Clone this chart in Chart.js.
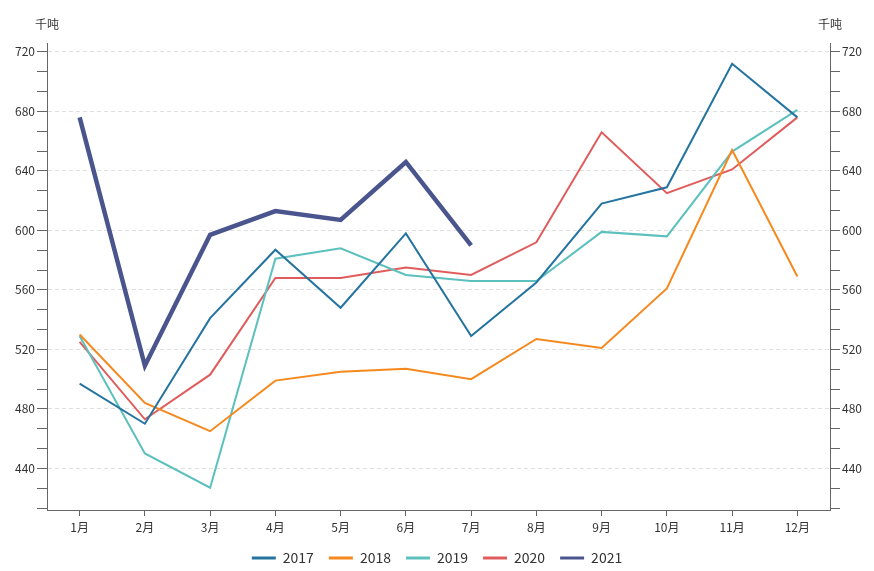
<!DOCTYPE html>
<html>
<head>
<meta charset="utf-8">
<script src="https://cdn.jsdelivr.net/npm/chart.js@4/dist/chart.umd.min.js"></script>
<style>
  html, body { margin: 0; padding: 0; background: #ffffff; }
  #wrap { width: 874px; height: 571px; }
</style>
</head>
<body>
<div id="wrap"><canvas id="c" width="874" height="571"></canvas></div>
<script>
const categories = ['1月','2月','3月','4月','5月','6月','7月','8月','9月','10月','11月','12月'];
const seriesNames = ['2017','2018','2019','2020','2021'];
const s2017 = [497, 470, 541, 587, 548, 598, 529, 565, 618, 629, 712, 676];
const s2018 = [530, 484, 465, 499, 505, 507, 500, 527, 521, 561, 654, 569];
const s2019 = [529, 450, 427, 581, 588, 570, 566, 566, 599, 596, 653, 681];
const s2020 = [525, 473, 503, 568, 568, 575, 570, 592, 666, 625, 641, 676];
const s2021 = [676, 509, 597, 613, 607, 646, 590];
const yMin = 412;
const yMax = 726;
const majorStep = 40;
const unitLabel = '千吨';

const colors = ['#24749f', '#f5891f', '#5cc0be', '#e05c5c', '#4a558e'];
const widths = [2, 2, 2, 2, 4.5];
const allSeries = [s2017, s2018, s2019, s2020, s2021];

const FONT = '"Noto Sans CJK SC", "Noto Sans", sans-serif';

function isMajor(v) {
  const r = Math.round(v);
  return Math.abs(v - r) < 0.01 && r % majorStep === 0;
}
function buildTicks(scale) {
  const ticks = [];
  const minor = majorStep / 3;
  for (let i = 0; ; i++) {
    const v = 720 - i * minor;
    if (v < yMin - 0.001) break;
    ticks.unshift({ value: v });
  }
  scale.ticks = ticks;
}

function yAxis(pos) {
  return {
    type: 'linear',
    position: pos,
    min: yMin,
    max: yMax,
    afterBuildTicks: buildTicks,
    afterFit: (s) => { s.width = pos === 'left' ? 47 : 44; },
    grid: {
      drawOnChartArea: pos === 'left',
      color: (ctx) => (ctx.tick && isMajor(ctx.tick.value)) ? '#e0e0e0' : 'rgba(0,0,0,0)',
      tickColor: '#666',
      tickLength: 10,
      lineWidth: 1
    },
    border: { display: true, color: '#666', width: 1, dash: [4, 3] },
    ticks: {
      autoSkip: false,
      padding: 2,
      color: '#333',
      font: { family: FONT, size: 12 },
      callback: (v) => isMajor(v) ? String(Math.round(v)) : ''
    }
  };
}

const unitPlugin = {
  id: 'unitLabels',
  afterDraw(chart) {
    const ctx = chart.ctx;
    ctx.save();
    ctx.font = '12px ' + FONT;
    ctx.fillStyle = '#333';
    ctx.textAlign = 'center';
    ctx.textBaseline = 'middle';
    ctx.fillText(unitLabel, chart.scales.y.right, 24);
    ctx.fillText(unitLabel, chart.scales.y2.left, 24);
    ctx.restore();
  }
};

new Chart(document.getElementById('c'), {
  type: 'line',
  data: {
    labels: categories,
    datasets: seriesNames.map((n, i) => ({
      label: n,
      data: allSeries[i],
      borderColor: colors[i],
      backgroundColor: colors[i],
      borderWidth: widths[i],
      pointRadius: 0,
      pointHoverRadius: 0,
      tension: 0,
      fill: false,
      yAxisID: 'y'
    }))
  },
  options: {
    responsive: false,
    animation: false,
    devicePixelRatio: 1,
    layout: { padding: { top: 43, bottom: 0, left: 0, right: 0 } },
    plugins: {
      legend: {
        position: 'bottom',
        maxHeight: 35,
        labels: {
          boxWidth: 24,
          boxHeight: 3,
          padding: 15,
          color: '#333',
          font: { family: FONT, size: 14 },
          generateLabels: (chart) => Chart.defaults.plugins.legend.labels.generateLabels(chart).map(l => Object.assign(l, { lineWidth: 0 }))
        }
      },
      tooltip: { enabled: false }
    },
    scales: {
      x: {
        type: 'category',
        offset: true,
        afterFit: (s) => { s.height = 26; },
        grid: { offset: false, drawOnChartArea: false, tickColor: '#666', tickLength: 6 },
        border: { display: true, color: '#666', width: 1 },
        ticks: { color: '#333', padding: 4, font: { family: FONT, size: 12 }, autoSkip: false, maxRotation: 0 }
      },
      y: yAxis('left'),
      y2: yAxis('right')
    }
  },
  plugins: [unitPlugin]
});
</script>
</body>
</html>
